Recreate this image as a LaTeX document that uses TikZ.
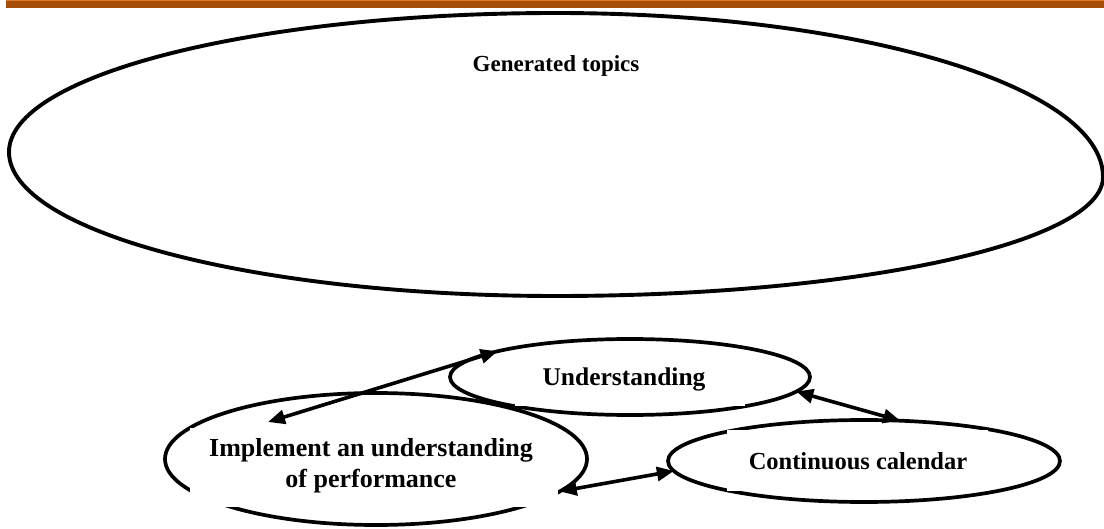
\documentclass[tikz,border=0pt]{standalone}
\usepackage{fontspec}
\setmainfont{Liberation Serif}
\usetikzlibrary{arrows.meta,shapes.geometric}
\definecolor{barbrown}{RGB}{166,77,8}
\definecolor{barlight}{RGB}{222,122,40}
\begin{document}
\begin{tikzpicture}[x=1pt,y=-1pt,
  outline/.style={draw=black, line width=3.9pt},
  oval/.style={ellipse, draw=black, line width=3.7pt, inner sep=0pt, outer sep=0pt},
  maskbox/.style={fill=white, draw=none},
  lbl/.style={font=\fontsize{26}{31}\selectfont\bfseries, align=center, inner sep=0pt},
  link/.style={line width=3.6pt, {Triangle[length=17pt,width=14pt]}-{Triangle[length=17pt,width=14pt]}}
]
\useasboundingbox (0,0) rectangle (1104,529);
\fill[white] (0,0) rectangle (1104,529);
% top bar
\fill[barbrown] (6,0) rectangle (1104,8);
\fill[barlight] (6,0) rectangle (1104,1.4);

% large oval
\draw[outline] (9,152) .. controls (9,75.2) and (253.9,13) .. (556,13)
  .. controls (858.1,13) and (1103,86.4) .. (1103,177)
  .. controls (1103,242.7) and (858.1,296) .. (556,296)
  .. controls (253.9,296) and (9,231.5) .. cycle;

% small ellipses
\node[oval, minimum width=360pt, minimum height=76pt] (und) at (630,377) {};
\node[oval, minimum width=422pt, minimum height=132pt] (imp) at (376,459) {};
\node[oval, minimum width=392pt, minimum height=82pt] (cal) at (864,461) {};

% white text boxes covering parts of the outlines
\fill[maskbox] (190,428) rectangle (558,507);
\fill[maskbox] (727,430) rectangle (988,491);
\fill[maskbox] (515,352) rectangle (745,406);

% texts
\node[lbl, font=\fontsize{23}{28}\selectfont\bfseries] (gen) at (556,66) {Generated topics};
\node[lbl, font=\fontsize{25.5}{30}\selectfont\bfseries] (undt) at (624,379) {Understanding};
\node[lbl] (impt) at (371,466) {Implement an understanding\\of performance};
\node[lbl, font=\fontsize{24.5}{29}\selectfont\bfseries] (calt) at (858,461) {Continuous calendar};

% connectors
\coordinate (a1) at (268,422);
\draw[link] (a1) -- (und.169);
\draw[link] (und.-5) -- (cal.48);
\draw[link] (imp.-10) -- (cal.183);
\end{tikzpicture}
\end{document}
